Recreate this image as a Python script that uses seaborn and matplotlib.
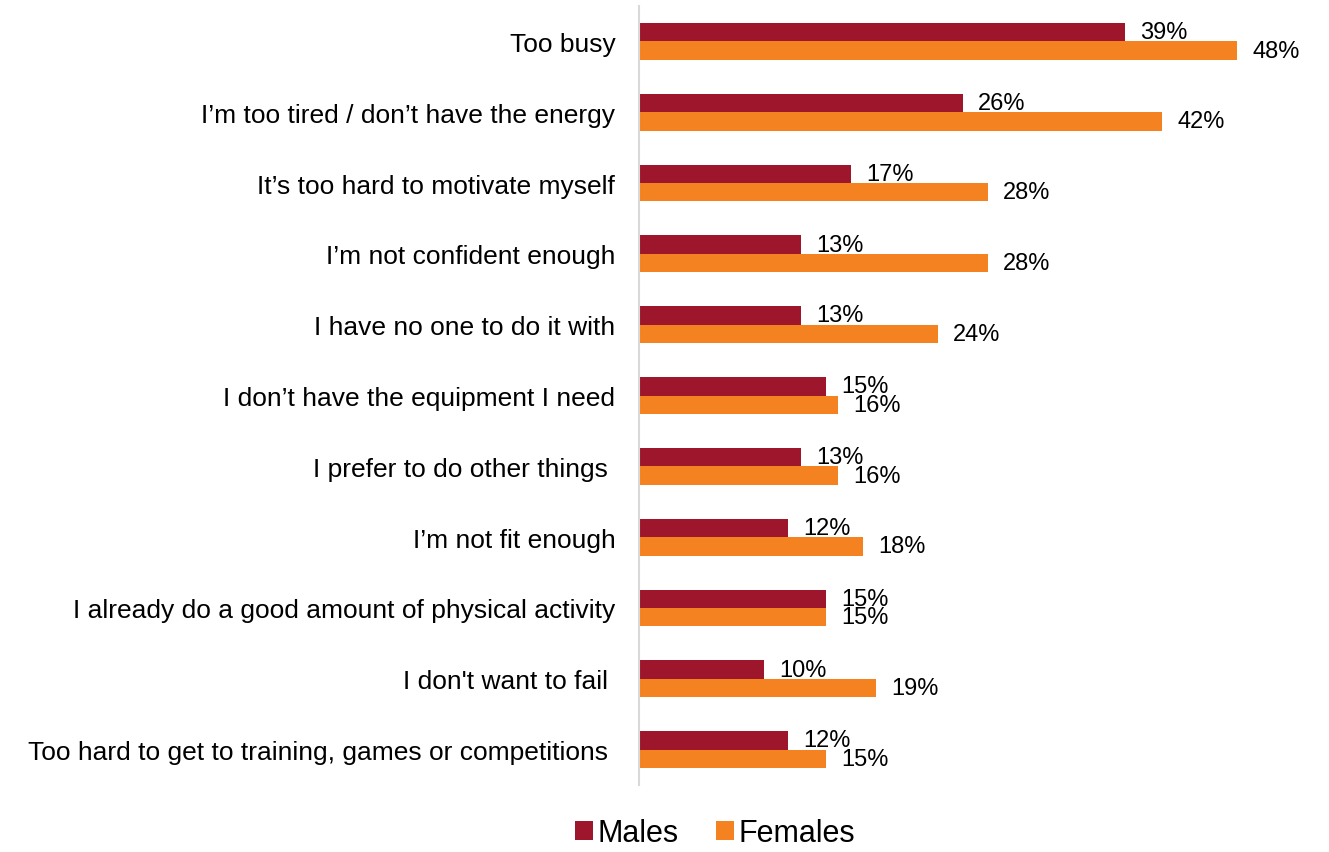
import matplotlib
matplotlib.use("Agg")
import matplotlib.pyplot as plt
import seaborn as sns
import pandas as pd
from matplotlib.patches import Patch

categories = [
    "Too busy",
    "I\u2019m too tired / don\u2019t have the energy",
    "It\u2019s too hard to motivate myself",
    "I\u2019m not confident enough",
    "I have no one to do it with",
    "I don\u2019t have the equipment I need",
    "I prefer to do other things ",
    "I\u2019m not fit enough",
    "I already do a good amount of physical activity",
    "I don't want to fail ",
    "Too hard to get to training, games or competitions ",
]
males = [39, 26, 17, 13, 13, 15, 13, 12, 15, 10, 12]
females = [48, 42, 28, 28, 24, 16, 16, 18, 15, 19, 15]
series = ["Males", "Females"]
colors = ["#9E162C", "#F58220"]

df = pd.DataFrame({
    "reason": categories * 2,
    "value": males + females,
    "group": [series[0]] * len(categories) + [series[1]] * len(categories),
})

sns.set_theme(style="white")
plt.rcParams["font.family"] = ["Liberation Sans", "DejaVu Sans"]
plt.rcParams["text.color"] = "black"
plt.rcParams["ytick.color"] = "black"

fig = plt.figure(figsize=(13.29, 8.53), dpi=100)
ax = fig.add_axes([0.4808, 0.0785, 0.5154, 0.9133])

sns.barplot(data=df, y="reason", x="value", hue="group", order=categories,
            hue_order=series, palette=colors, width=0.52, orient="h",
            ax=ax, legend=False, saturation=1, linewidth=0, edgecolor="none")

for cont in ax.containers:
    ax.bar_label(cont, labels=[f"{int(v)}%" for v in cont.datavalues],
                 padding=11, fontsize=17, color="black")

ax.set_xlim(0, 55)
ax.set_ylim(10.5, -0.5)
ax.set_xlabel("")
ax.set_ylabel("")
ax.set_xticks([])
ax.tick_params(axis="y", length=0, pad=17, labelsize=19, labelcolor="black")
for s in ["top", "right", "bottom"]:
    ax.spines[s].set_visible(False)
ax.spines["left"].set_color("#D9D9D9")
ax.spines["left"].set_linewidth(1.5)

handles = [Patch(facecolor=c, edgecolor="none") for c in colors]
fig.legend(handles, series, loc="center", bbox_to_anchor=(0.538, 0.022),
           ncol=2, frameon=False, fontsize=22, handlelength=0.6,
           handleheight=0.6, handletextpad=0.15, columnspacing=1.2,
           labelcolor="black", borderpad=0.1)

fig.savefig("out.png", dpi=100)
